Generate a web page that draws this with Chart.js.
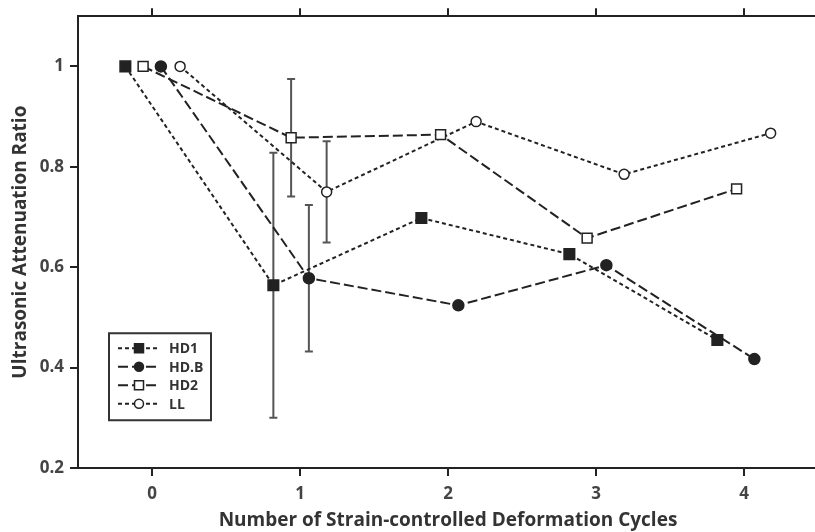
<!DOCTYPE html>
<html>
<head>
<meta charset="utf-8">
<script src="https://cdn.jsdelivr.net/npm/chart.js@4"></script>
<style>
  html, body { margin: 0; padding: 0; background: #fff; overflow: hidden; }
  #wrap { position: absolute; left: 0; top: 0; width: 830px; height: 532px; }
</style>
</head>
<body>
<div id="wrap"><canvas id="myChart" width="830" height="532"></canvas></div>
<script>
// data (x positions are slightly staggered per series)
const seriesNames = ["HD1", "HD.B", "HD2", "LL"];

const hd1X = [-0.18, 0.82, 1.82, 2.82, 3.82];
const hd1Y = [1.0, 0.564, 0.698, 0.626, 0.455];
const hd1Err = [0, 0.264, 0, 0, 0];

const hdbX = [0.06, 1.06, 2.07, 3.07, 4.07];
const hdbY = [1.0, 0.578, 0.524, 0.604, 0.417];
const hdbErr = [0, 0.146, 0, 0, 0];

const hd2X = [-0.06, 0.94, 1.95, 2.94, 3.95];
const hd2Y = [1.0, 0.858, 0.864, 0.658, 0.756];
const hd2Err = [0, 0.117, 0, 0, 0];

const llX = [0.19, 1.18, 2.19, 3.19, 4.18];
const llY = [1.0, 0.75, 0.89, 0.785, 0.867];
const llErr = [0, 0.101, 0, 0, 0];

const xTicks = [0, 1, 2, 3, 4];
const yTicks = [0.2, 0.4, 0.6, 0.8, 1];

const FONT = "'Open Sans', 'Noto Sans', sans-serif";
const INK = "#222";

function pts(xs, ys) {
  return xs.map((v, i) => ({ x: v, y: ys[i] }));
}

function series(label, xs, ys, errs, style, radius, fill, dash) {
  return {
    label: label,
    data: pts(xs, ys),
    errors: errs,
    borderColor: INK,
    borderWidth: 2,
    borderDash: dash,
    pointStyle: style,
    pointRadius: radius,
    pointBackgroundColor: fill,
    pointBorderColor: INK,
    pointBorderWidth: 1.5,
    tension: 0,
    clip: false
  };
}

const shortDash = [4, 3];
const longDash = [10, 4];

const errorBars = {
  id: "errorBars",
  beforeDatasetsDraw(chart) {
    const ctx = chart.ctx;
    const x = chart.scales.x;
    const y = chart.scales.y;
    ctx.save();
    ctx.strokeStyle = "#555";
    ctx.lineWidth = 2;
    chart.data.datasets.forEach((ds) => {
      ds.errors.forEach((e, j) => {
        if (!e) return;
        const p = ds.data[j];
        const px = x.getPixelForValue(p.x);
        const top = y.getPixelForValue(p.y + e);
        const bot = y.getPixelForValue(p.y - e);
        ctx.beginPath();
        ctx.moveTo(px, top);
        ctx.lineTo(px, bot);
        ctx.moveTo(px - 4, top);
        ctx.lineTo(px + 4, top);
        ctx.moveTo(px - 4, bot);
        ctx.lineTo(px + 4, bot);
        ctx.stroke();
      });
    });
    ctx.restore();
  }
};

// legend box inside the plot, lower left
const boxLegend = {
  id: "boxLegend",
  afterDatasetsDraw(chart) {
    const ctx = chart.ctx;
    const area = chart.chartArea;
    const left = area.left + 31;
    const top = area.top + 317;
    ctx.save();
    ctx.beginPath();
    ctx.strokeStyle = "#333";
    ctx.lineWidth = 2;
    ctx.rect(left, top, 102, 87);
    ctx.stroke();
    chart.data.datasets.forEach((ds, i) => {
      const cy = top + 15 + i * 18.5;
      const mx = left + 30;
      ctx.strokeStyle = INK;
      ctx.lineWidth = 2;
      ctx.setLineDash(ds.borderDash);
      ctx.beginPath();
      ctx.moveTo(left + 9, cy);
      ctx.lineTo(left + 48, cy);
      ctx.stroke();
      ctx.setLineDash([]);
      ctx.fillStyle = ds.pointBackgroundColor;
      ctx.lineWidth = 1.5;
      ctx.beginPath();
      if (ds.pointStyle === "rect") {
        ctx.rect(mx - 4.5, cy - 4.5, 9, 9);
      } else {
        ctx.arc(mx, cy, 4.5, 0, Math.PI * 2);
      }
      ctx.fill();
      ctx.stroke();
      ctx.fillStyle = "#333";
      ctx.font = "bold 14px " + FONT;
      ctx.textBaseline = "middle";
      ctx.textAlign = "left";
      ctx.fillText(ds.label, left + 60, cy + 1);
    });
    ctx.restore();
  }
};

const myCanvas = document.getElementById("myChart");

const chart = new Chart(myCanvas, {
  type: "scatter",
  data: {
    datasets: [
      series(seriesNames[0], hd1X, hd1Y, hd1Err, "rect", 7.5, INK, shortDash),
      series(seriesNames[1], hdbX, hdbY, hdbErr, "circle", 5.5, INK, longDash),
      series(seriesNames[2], hd2X, hd2Y, hd2Err, "rect", 7, "#fff", longDash),
      series(seriesNames[3], llX, llY, llErr, "circle", 5, "#fff", shortDash)
    ]
  },
  options: {
    responsive: false,
    animation: false,
    devicePixelRatio: 1,
    showLine: true,
    layout: { autoPadding: false, padding: { left: 0, right: 12, top: 0, bottom: 0 } },
    plugins: {
      legend: { display: false },
      tooltip: { enabled: false }
    },
    scales: {
      x: {
        type: "linear",
        position: "bottom",
        min: -0.5,
        max: 4.5,
        afterBuildTicks: (axis) => { axis.ticks = xTicks.map((v) => ({ value: v })); },
        afterFit: (axis) => { axis.height = 64; },
        grid: { drawOnChartArea: false, tickLength: 8, color: INK, lineWidth: 2 },
        border: { color: INK, width: 2 },
        ticks: {
          color: "#444",
          padding: 8,
          font: { family: FONT, size: 17, weight: "bold" },
          callback: (v) => String(v)
        },
        title: {
          display: true,
          text: "Number of Strain-controlled Deformation Cycles",
          color: "#333",
          font: { family: FONT, size: 19, weight: "bold" },
          padding: { top: 0, bottom: 0 }
        }
      },
      x2: {
        type: "linear",
        position: "top",
        min: -0.5,
        max: 4.5,
        afterBuildTicks: (axis) => { axis.ticks = xTicks.map((v) => ({ value: v })); },
        afterFit: (axis) => { axis.height = 15; },
        grid: { drawOnChartArea: false, tickLength: 8, color: INK, lineWidth: 2 },
        border: { color: INK, width: 2 },
        ticks: { display: false }
      },
      y: {
        type: "linear",
        min: 0.2,
        max: 1.1,
        afterBuildTicks: (axis) => { axis.ticks = yTicks.map((v) => ({ value: v })); },
        afterFit: (axis) => { axis.width = 78; },
        grid: { drawOnChartArea: false, tickLength: 8, color: INK, lineWidth: 2 },
        border: { color: INK, width: 2 },
        ticks: {
          color: "#444",
          padding: 6,
          font: { family: FONT, size: 17, weight: "bold" },
          callback: (v) => String(v)
        },
        title: {
          display: true,
          text: "Ultrasonic Attenuation Ratio",
          color: "#333",
          font: { family: FONT, size: 19, weight: "bold" },
          padding: { top: 9, bottom: 0 }
        }
      }
    }
  },
  plugins: [errorBars, boxLegend]
});
</script>
</body>
</html>
